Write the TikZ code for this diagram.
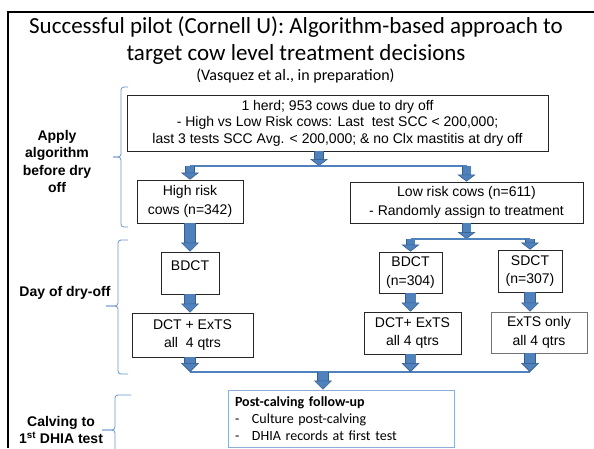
\documentclass[tikz,border=0pt]{standalone}
\usepackage{fontspec}
\setmainfont{Liberation Sans}
\newfontfamily\calibri{Carlito}
\usetikzlibrary{arrows.meta}
\definecolor{arrowblue}{HTML}{4F81BD}
\definecolor{arrowdark}{HTML}{385D8A}
\definecolor{braceblue}{HTML}{6A95CC}
\definecolor{postblue}{HTML}{8EAEDB}

\begin{document}
\begin{tikzpicture}[
  x=1pt, y=-1pt,
  box/.style={rectangle, draw=black!85, line width=0.8pt, align=center, inner sep=3pt, font=\fontsize{14}{18.5}\selectfont},
  flow/.style={draw=arrowblue, line width=10pt, -{Triangle[length=9pt, width=18pt, color=arrowdark, fill=arrowblue, line width=0.6pt]}, preaction={draw=arrowdark, line width=11.2pt, -, shorten >=8pt}},
  smallflow/.style={draw=arrowblue, line width=8pt, -{Triangle[length=7pt, width=18pt, color=arrowdark, fill=arrowblue, line width=0.6pt]}, preaction={draw=arrowdark, line width=9.2pt, -, shorten >=6pt}},
  bar/.style={draw=arrowblue, line width=2pt},
  brace/.style={draw=braceblue, line width=0.8pt, rounded corners=3pt},
  side/.style={align=center, font=\bfseries\fontsize{14}{17.6}\selectfont},
]
  \useasboundingbox (0,0) rectangle (594,448);
  \clip (0,0) rectangle (594,448);
  \draw[line width=2.5pt] (594,12) -- (8,12) -- (8,448);

  \node[align=center, font=\calibri\fontsize{23}{27}\selectfont] (title) at (296,40.5) {Successful pilot (Cornell U): Algorithm-based approach to\\target cow level treatment decisions};
  \node[anchor=base, font=\calibri\fontsize{16}{19}\selectfont] (ref) at (295.5,80) {(Vasquez et al., in preparation)};

  \node[box, minimum width=421pt, minimum height=56pt, font=\fontsize{14}{16.5}\selectfont] (herd) at (337.5,123) {1 herd; 953 cows due to dry off\\- High vs Low Risk cows: Last~ test SCC < 200,000;\\last 3 tests SCC Avg. < 200,000; \& no Clx mastitis at dry off};
  \node[box, minimum width=106pt, minimum height=43pt] (hr) at (190,201.5) {High risk\\cows (n=342)};
  \node[box, minimum width=233pt, minimum height=41pt] (lr) at (466.5,202.5) {Low risk cows (n=611)\\- Randomly assign to treatment};
  \node[box, minimum width=58pt, text height=15pt, text depth=21pt] (bd1) at (190,273) {BDCT};
  \node[box, minimum width=63pt, minimum height=41pt] (bd2) at (410.5,272.5) {BDCT\\(n=304)};
  \node[box, minimum width=64pt, minimum height=42pt] (sd) at (530,271) {SDCT\\(n=307)};
  \node[box, minimum width=121pt, minimum height=44pt] (dct1) at (192.5,335) {DCT + ExTS\\all~ 4 qtrs};
  \node[box, minimum width=97pt, minimum height=42pt] (dct2) at (412.5,333) {DCT+ ExTS\\all 4 qtrs};
  \node[box, draw=black!55, minimum width=96pt, minimum height=41pt] (ext) at (539,332.5) {ExTS only\\all 4 qtrs};
  \node[box, draw=postblue, align=left, text width=212pt, inner xsep=7pt, minimum height=57pt, font=\calibri\fontsize{14}{17}\selectfont] (post) at (341,418.5) {\textbf{Post-calving follow-up}\\\makebox[17pt][l]{-}Culture post-calving\\\makebox[17pt][l]{-}DHIA records at first test};

  \coordinate (split1) at (319,166);
  \coordinate (split2) at (465,239);
  \coordinate (merge) at (323,372);

  \draw[smallflow] (split1 |- herd.south) -- (split1);
  \draw[bar] (hr.north |- split1) -- (lr.north |- split1);
  \draw[smallflow] (hr.north |- split1) -- (hr.north);
  \draw[smallflow] (lr.north |- split1) -- (lr.north);

  \draw[flow] (hr.south) -- (bd1.north);
  \draw[smallflow] (lr.south) -- (lr.south |- split2);
  \draw[bar] (bd2.north |- split2) -- (sd.north |- split2);
  \draw[smallflow] (bd2.north |- split2) -- (bd2.north);
  \draw[smallflow] (sd.north |- split2) -- (sd.north);

  \draw[flow] (bd1.south) -- (bd1.south |- dct1.north);
  \draw[flow] (bd2.south) -- (bd2.south |- dct2.north);
  \draw[flow] (sd.south) -- (sd.south |- ext.north);

  \draw[bar] (bd1.south |- merge) -- (sd.south |- merge);
  \draw[flow] (bd1.south |- dct1.south) -- (bd1.south |- merge);
  \draw[flow] (bd2.south |- dct2.south) -- (bd2.south |- merge);
  \draw[flow] (sd.south |- ext.south) -- (sd.south |- merge);
  \draw[flow] (merge) -- (merge |- post.north);

  \draw[brace] (128,87) -- (121,87) -- (121,157) -- (113,157);
  \draw[brace] (113,157) -- (121,157) -- (121,227) -- (128,227);
  \draw[brace] (128,240) -- (118,240) -- (118,306) -- (106,306);
  \draw[brace] (106,306) -- (118,306) -- (118,374) -- (128,374);
  \draw[brace] (131,395) -- (115,395) -- (115,430) -- (102,430);
  \draw[brace] (102,430) -- (115,430) -- (115,465) -- (131,465);

  \node[side] (apply) at (57,161.5) {Apply\\algorithm\\before dry\\off};
  \node[side] (dry) at (65,293) {Day of dry-off};
  \node[side] (calv) at (61,430) {Calving to\\1\textsuperscript{st} DHIA test};
\end{tikzpicture}
\end{document}
